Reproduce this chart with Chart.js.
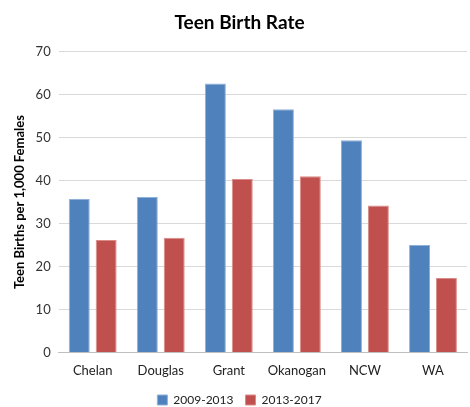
<!DOCTYPE html>
<html>
<head>
<meta charset="utf-8">
<script src="https://cdn.jsdelivr.net/npm/chart.js@4"></script>
<style>
  html, body { margin: 0; padding: 0; background: #fff; }
  #wrap { width: 470px; height: 407px; position: relative; }
</style>
</head>
<body>
<div id="wrap"><canvas id="myChart"></canvas></div>
<script>
const labels = ["Chelan", "Douglas", "Grant", "Okanogan", "NCW", "WA"];
const rate2009 = [35.7, 36.2, 62.6, 56.6, 49.4, 25.0];
const rate2013 = [26.2, 26.7, 40.4, 41.0, 34.2, 17.3];
const seriesNames = ["2009-2013", "2013-2017"];

const font = "Lato, 'Open Sans', sans-serif";

function generateChart() {
  const data = {
    labels: labels,
    datasets: [
      {
        label: seriesNames[0],
        data: rate2009,
        backgroundColor: "#4f81bd",
        borderColor: "#8fb0d8",
        borderWidth: 1,
        categoryPercentage: 0.79,
        barPercentage: 0.78,
      },
      {
        label: seriesNames[1],
        data: rate2013,
        backgroundColor: "#c0504d",
        borderColor: "#d98b89",
        borderWidth: 1,
        categoryPercentage: 0.79,
        barPercentage: 0.78,
      },
    ],
  };

  const config = {
    type: "bar",
    data: data,
    options: {
      responsive: true,
      maintainAspectRatio: false,
      animation: false,
      // negative bottom pushes the legend down towards the edge
      layout: { padding: { left: 12, right: 3, top: 4, bottom: -9 } },
      plugins: {
        title: {
          display: true,
          text: "Teen Birth Rate",
          color: "#000",
          font: { family: font, size: 19, weight: "bold" },
          padding: { top: 7, bottom: 18 },
        },
        legend: {
          display: true,
          position: "bottom",
          labels: {
            boxWidth: 10,
            boxHeight: 10,
            color: "#222",
            font: { family: font, size: 12 },
            padding: 12,
          },
        },
        tooltip: { enabled: false },
      },
      scales: {
        x: {
          grid: { display: false },
          border: { display: true, color: "#bfbfbf" },
          ticks: { color: "#222", font: { family: font, size: 13 }, padding: 3 },
        },
        y: {
          min: 0,
          max: 70,
          grid: { color: "#d9d9d9", drawTicks: false },
          border: { display: false },
          ticks: {
            stepSize: 10,
            color: "#333",
            font: { family: font, size: 13 },
            padding: 8,
          },
          title: {
            display: true,
            text: "Teen Births per 1,000 Females",
            color: "#000",
            font: { family: font, size: 13, weight: "bold" },
            padding: { top: 0, bottom: 0 },
          },
        },
      },
    },
  };
  const myChart = new Chart(document.getElementById("myChart"), config);
}

generateChart();
</script>
</body>
</html>
